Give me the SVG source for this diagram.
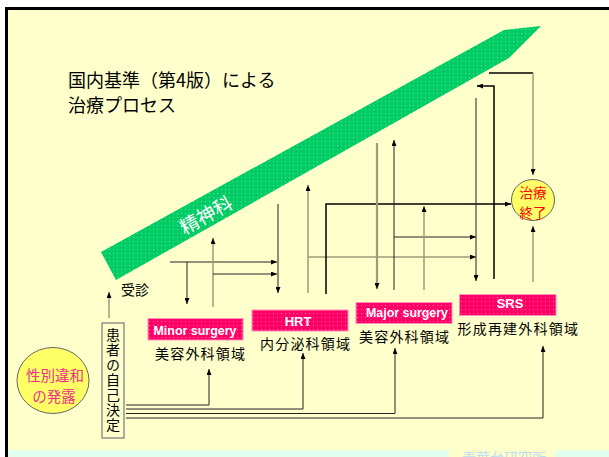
<svg xmlns="http://www.w3.org/2000/svg" width="609" height="457" viewBox="0 0 609 457">
<defs>
<pattern id="gdots" width="4" height="4" patternUnits="userSpaceOnUse"><rect width="4" height="4" fill="#00CC66"/><rect x="1" y="1" width="1" height="1" fill="#5FE39B"/></pattern>
<pattern id="pdots" width="4" height="4" patternUnits="userSpaceOnUse"><rect width="4" height="4" fill="#FF0066"/><rect x="1" y="1" width="1" height="1" fill="#FF6FA8"/></pattern>
<marker id="ah" markerUnits="userSpaceOnUse" markerWidth="6" markerHeight="5" refX="6" refY="2.5" orient="auto"><path d="M0,0 L6,2.5 L0,5 z" fill="#000"/></marker>
<style>
.jp{font-family:"Noto Sans CJK JP","Noto Sans",sans-serif;}
.lbl{font-size:14px;letter-spacing:1.2px;fill:#000;}
.en{font-family:"Liberation Sans",Arial,sans-serif;font-weight:bold;font-size:13px;fill:#fff;}
.pbox{fill:url(#pdots);stroke:#FF8FB5;stroke-width:1;}
.dk{fill:none;stroke:#222;stroke-width:1;}
.bk{fill:none;stroke:#000;stroke-width:1.5;}
.gr{fill:none;stroke:#9C9C78;stroke-width:1.5;}
.gr2{fill:none;stroke:#9C9C78;stroke-width:2.2;}
.arr{marker-end:url(#ah);}
</style>
</defs>
<rect x="0" y="0" width="609" height="457" fill="#fff"/>
<rect x="6.5" y="8.5" width="620" height="470" fill="#FFFFCC" stroke="#000" stroke-width="3"/>
<rect x="8" y="450" width="441" height="8" fill="#E2FFEE"/>
<rect x="555" y="450" width="60" height="8" fill="#E2FFEE"/>
<text x="462" y="463" class="jp" font-size="14" fill="#BCDDF2">青葉台研究所</text>

<g id="title">
<text class="jp" font-size="18" fill="#000"><tspan x="68" y="87">国内基準（第4版）による</tspan><tspan x="68" y="112">治療プロセス</tspan></text>
</g>

<g id="psychiatry">
<polygon points="101,252 504,30 541,26 509,58 116,280" fill="url(#gdots)"/>
<text transform="translate(206,215) rotate(-29)" x="0" y="7" text-anchor="middle" class="jp" font-size="19" fill="#fff">精神科</text>
</g>

<g id="connectors">
<path class="gr arr" d="M109,318 V292"/>
<path class="dk arr" d="M126,405 H209 V369"/>
<path class="dk arr" d="M126,409 H303 V353"/>
<path class="dk arr" d="M126,413.5 H395 V348"/>
<path class="dk arr" d="M126,418 H543 V346"/>
<path class="dk arr" d="M170,262 H277"/>
<path class="dk arr" d="M187,262 V304"/>
<path class="gr arr" d="M213,307 V238"/>
<path class="dk arr" d="M213,274 H277"/>
<path class="dk arr" d="M278,204 V293"/>
<path class="gr arr" d="M308,293 V185"/>
<path class="gr arr" d="M308,257 H476"/>
<path class="bk arr" d="M326,294 V204 H511"/>
<path class="gr2 arr" d="M377,143 V289"/>
<path class="dk arr" d="M394,290 V140"/>
<path class="dk arr" d="M394,237 H476"/>
<path class="gr arr" d="M424,290 V206"/>
<path class="dk arr" d="M476,98 V281"/>
<path class="bk arr" d="M494,279 V86 H477"/>
<path class="bk" d="M489,73 H533"/>
<path class="gr arr" d="M533,73 V175"/>
<path class="gr arr" d="M533,282 V226"/>
</g>

<g id="dysphoria">
<ellipse cx="53" cy="380.5" rx="36" ry="33" fill="#FFFF66" stroke="#666" stroke-width="1"/>
<text text-anchor="middle" class="jp" font-size="14.5" fill="#F0308A"><tspan x="55" y="380.5">性別違和</tspan><tspan x="54" y="401.5">の発露</tspan></text>
</g>

<g id="self-decision">
<rect x="102" y="323" width="22" height="115" fill="#FFFFCC" stroke="#777" stroke-width="1.2"/>
<text x="113" y="328" class="jp" font-size="14" fill="#000" style="writing-mode:vertical-rl;letter-spacing:1px">患者の自己決定</text>
</g>

<g id="visit">
<text x="121" y="294.5" class="jp" font-size="14" fill="#000">受診</text>
</g>

<g id="minor">
<rect class="pbox" x="148" y="318.5" width="95" height="21.5"/>
<text x="153.5" y="335" class="en" textLength="83" lengthAdjust="spacingAndGlyphs">Minor surgery</text>
<text x="155" y="358.5" class="jp lbl">美容外科領域</text>
</g>

<g id="hrt">
<rect class="pbox" x="252" y="310" width="96" height="21"/>
<text x="298" y="325.5" class="en" text-anchor="middle" font-size="14">HRT</text>
<text x="260" y="349" class="jp lbl">内分泌科領域</text>
</g>

<g id="major">
<rect class="pbox" x="356" y="302.5" width="96" height="21"/>
<text x="366" y="316.7" class="en" textLength="82" lengthAdjust="spacingAndGlyphs">Major surgery</text>
<text x="359" y="342" class="jp lbl">美容外科領域</text>
</g>

<g id="srs">
<rect class="pbox" x="459.5" y="294.5" width="96.5" height="21"/>
<text x="510" y="308" class="en" text-anchor="middle" font-size="14.5">SRS</text>
<text x="457.5" y="334" class="jp lbl">形成再建外科領域</text>
</g>

<g id="end">
<ellipse cx="533" cy="200" rx="21.5" ry="20.5" fill="#FFFF66" stroke="#666" stroke-width="1"/>
<text text-anchor="middle" class="jp" font-size="13.5" fill="#FF0000"><tspan x="533" y="198">治療</tspan><tspan x="533" y="218">終了</tspan></text>
</g>
</svg>
